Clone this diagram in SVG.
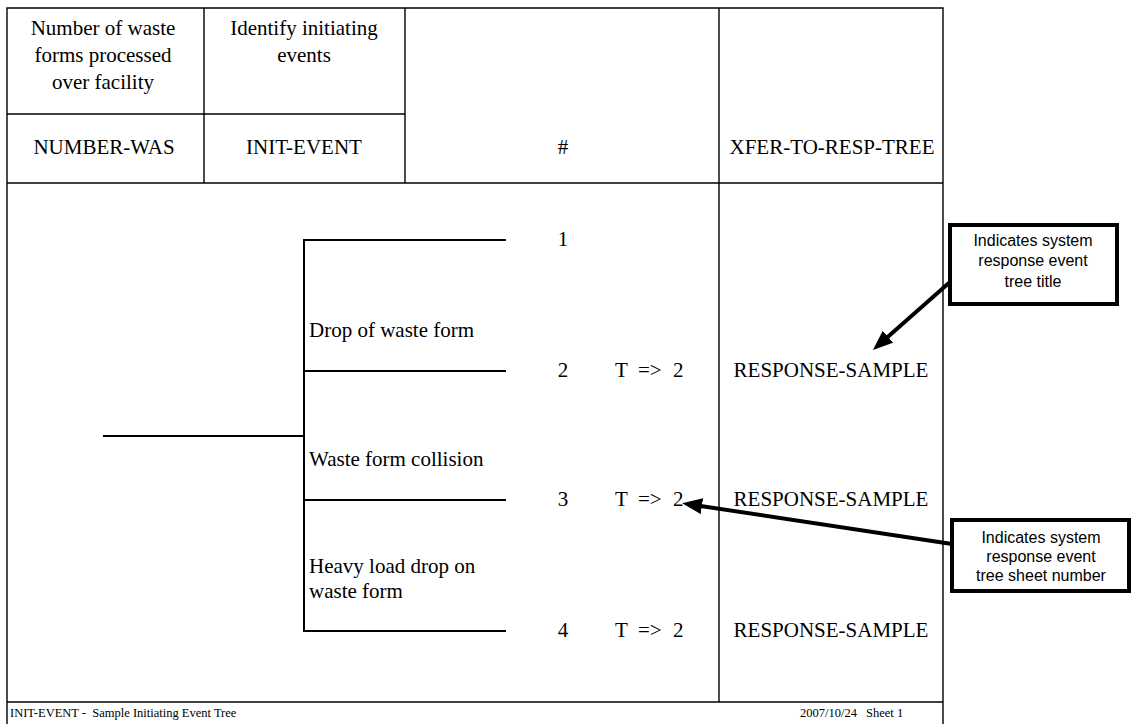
<svg xmlns="http://www.w3.org/2000/svg" width="1133" height="724" viewBox="0 0 1133 724">
  <style>
    .grid { stroke: #000; stroke-width: 1.4; fill: none; }
    .branch { stroke: #000; stroke-width: 2; fill: none; }
    .serif { font-family: "Liberation Serif", "Times New Roman", serif; font-size: 21px; fill: #000; }
    .mid { text-anchor: middle; }
    .foot { font-family: "Liberation Serif", "Times New Roman", serif; font-size: 12.5px; fill: #000; }
    .note-box { fill: #fff; stroke: #000; stroke-width: 4; }
    .note { font-family: "Liberation Sans", Arial, sans-serif; font-size: 16px; fill: #000; text-anchor: middle; }
    .callout { stroke: #000; stroke-width: 4; fill: none; marker-end: url(#head); }
  </style>
  <defs>
    <marker id="head" markerUnits="userSpaceOnUse" markerWidth="20" markerHeight="16" viewBox="0 0 20 16" refX="8" refY="8" orient="auto">
      <path d="M0,0 L20,8 L0,16 z" fill="#000"/>
    </marker>
  </defs>

  <rect width="1133" height="724" fill="#fff"/>

  <!-- sheet frame and column grid -->
  <g id="frame">
    <path class="grid" d="M7,740 V8 H943 V740"/>
    <line class="grid" x1="7" y1="183" x2="943" y2="183"/>
    <line class="grid" x1="7" y1="114" x2="405" y2="114"/>
    <line class="grid" x1="204" y1="8" x2="204" y2="183"/>
    <line class="grid" x1="405" y1="8" x2="405" y2="183"/>
    <line class="grid" x1="719" y1="8" x2="719" y2="702"/>
    <line class="grid" x1="7" y1="702" x2="943" y2="702"/>
  </g>

  <!-- column headings -->
  <g id="col-number-was">
    <text class="serif mid" x="103" y="35">Number of waste</text>
    <text class="serif mid" x="103" y="62">forms processed</text>
    <text class="serif mid" x="103" y="89">over facility</text>
    <text class="serif mid" x="104" y="154">NUMBER-WAS</text>
  </g>
  <g id="col-init-event">
    <text class="serif mid" x="304" y="35">Identify initiating</text>
    <text class="serif mid" x="304" y="62">events</text>
    <text class="serif mid" x="304" y="154">INIT-EVENT</text>
  </g>
  <g id="col-seq">
    <text class="serif mid" x="563" y="154">#</text>
  </g>
  <g id="col-xfer">
    <text class="serif mid" x="832" y="154">XFER-TO-RESP-TREE</text>
  </g>

  <!-- event tree branches -->
  <g id="tree">
    <line class="branch" x1="103" y1="436" x2="304" y2="436"/>
    <line class="branch" x1="304" y1="239" x2="304" y2="632"/>
    <line class="branch" x1="303" y1="240" x2="506" y2="240"/>
    <line class="branch" x1="303" y1="371" x2="506" y2="371"/>
    <line class="branch" x1="303" y1="500" x2="506" y2="500"/>
    <line class="branch" x1="303" y1="631" x2="506" y2="631"/>
    <text class="serif" x="309" y="337">Drop of waste form</text>
    <text class="serif" x="309" y="466">Waste form collision</text>
    <text class="serif" x="309" y="573">Heavy load drop on</text>
    <text class="serif" x="309" y="598">waste form</text>
  </g>

  <!-- sequence rows -->
  <g id="seq-1">
    <text class="serif mid" x="563" y="246">1</text>
  </g>
  <g id="seq-2">
    <text class="serif mid" x="563" y="377">2</text>
    <text class="serif"><tspan x="615" y="377">T</tspan><tspan x="638" y="377">=&gt;</tspan><tspan x="673" y="377">2</tspan></text>
    <text class="serif mid" x="831" y="377">RESPONSE-SAMPLE</text>
  </g>
  <g id="seq-3">
    <text class="serif mid" x="563" y="506">3</text>
    <text class="serif"><tspan x="615" y="506">T</tspan><tspan x="638" y="506">=&gt;</tspan><tspan x="673" y="506">2</tspan></text>
    <text class="serif mid" x="831" y="506">RESPONSE-SAMPLE</text>
  </g>
  <g id="seq-4">
    <text class="serif mid" x="563" y="637">4</text>
    <text class="serif"><tspan x="615" y="637">T</tspan><tspan x="638" y="637">=&gt;</tspan><tspan x="673" y="637">2</tspan></text>
    <text class="serif mid" x="831" y="637">RESPONSE-SAMPLE</text>
  </g>

  <!-- footer -->
  <g id="footer">
    <text class="foot" x="10" y="717" xml:space="preserve">INIT-EVENT -  Sample Initiating Event Tree</text>
    <text class="foot" x="800" y="717">2007/10/24</text>
    <text class="foot" x="866" y="717">Sheet 1</text>
  </g>

  <!-- callout arrows -->
  <g id="connectors">
    <line class="callout" x1="950" y1="282" x2="882" y2="342"/>
    <line class="callout" x1="952" y1="544" x2="694" y2="505"/>
  </g>

  <!-- callout notes -->
  <g id="note-title">
    <rect class="note-box" x="950" y="225" width="167" height="79"/>
    <text class="note" x="1033" y="246">Indicates system</text>
    <text class="note" x="1033" y="266">response event</text>
    <text class="note" x="1033" y="287">tree title</text>
  </g>
  <g id="note-sheet">
    <rect class="note-box" x="952" y="520" width="177" height="71"/>
    <text class="note" x="1041" y="543">Indicates system</text>
    <text class="note" x="1041" y="562">response event</text>
    <text class="note" x="1041" y="581">tree sheet number</text>
  </g>
</svg>
